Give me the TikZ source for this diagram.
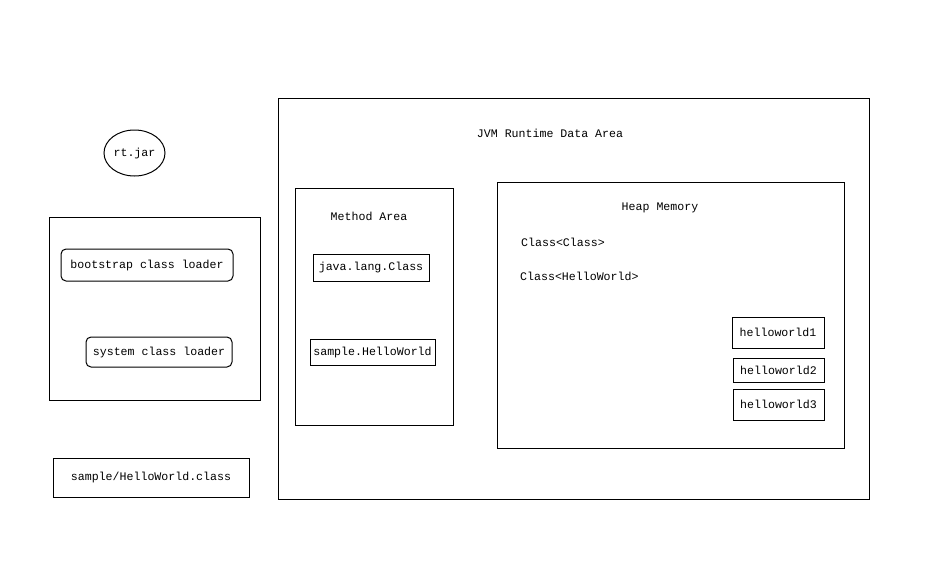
\documentclass[tikz,border=0pt]{standalone}
\usepackage{fontspec}
\setmonofont{Liberation Mono}
\usepackage{tikz}
\usetikzlibrary{positioning,shapes.geometric}

\begin{document}
\begin{tikzpicture}[
    x=1pt, y=-1pt,
    every node/.style={font=\ttfamily\fontsize{11.6}{13}\selectfont, inner sep=0pt},
    frame/.style={
        rectangle,
        draw,
        line width=1pt
    },
    box/.style={
        rectangle,
        draw,
        line width=1pt,
        text centered
    },
    loader/.style={
        rectangle,
        rounded corners=5pt,
        draw,
        line width=1pt,
        text centered
    },
    label/.style={anchor=center}
]
    \useasboundingbox (0,0) rectangle (926,570);

    % === CLASS LOADERS ===
    \node[ellipse, draw, line width=1pt, minimum width=61pt, minimum height=46pt] (rtjar) at (134.5,153) {rt.jar};

    \node[frame, minimum width=211pt, minimum height=183pt] (loaders) at (154.5,308.5) {};
    \node[loader, minimum width=172pt, minimum height=32pt] (bootstrap) at (147,265) {bootstrap class loader};
    \node[loader, minimum width=146pt, minimum height=30pt] (system) at (159,352) {system class loader};

    % Class file
    \node[box, minimum width=196pt, minimum height=39pt] (classfile) at (151,477.5) {sample/HelloWorld.class};

    % === JVM RUNTIME DATA AREA ===
    \node[frame, minimum width=591pt, minimum height=401pt] (jvm) at (573.5,298.5) {};
    \node[label] (jvmtitle) at (550,133) {JVM Runtime Data Area};

    % Method area
    \node[frame, minimum width=158pt, minimum height=237pt] (method) at (374,306.5) {};
    \node[label] (methodtitle) at (369,216) {Method Area};
    \node[box, minimum width=116pt, minimum height=27pt] (javaclass) at (371,267.5) {java.lang.Class};
    \node[box, minimum width=125pt, minimum height=26pt] (sampleclass) at (372.5,352) {sample.HelloWorld};

    % Heap memory
    \node[frame, minimum width=347pt, minimum height=266pt] (heap) at (670.5,315) {};
    \node[label] (heaptitle) at (660,208) {Heap Memory};
    \node[anchor=west] (classclass) at (521,242) {Class<Class>};
    \node[anchor=west] (classhw) at (520,276) {Class<HelloWorld>};

    % Instances
    \node[box, minimum width=92pt, minimum height=31pt] (hw1) at (778,332.5) {helloworld1};
    \node[box, minimum width=91pt, minimum height=24pt] (hw2) at (778.5,370) {helloworld2};
    \node[box, minimum width=91pt, minimum height=31pt] (hw3) at (778.5,404.5) {helloworld3};
\end{tikzpicture}
\end{document}
